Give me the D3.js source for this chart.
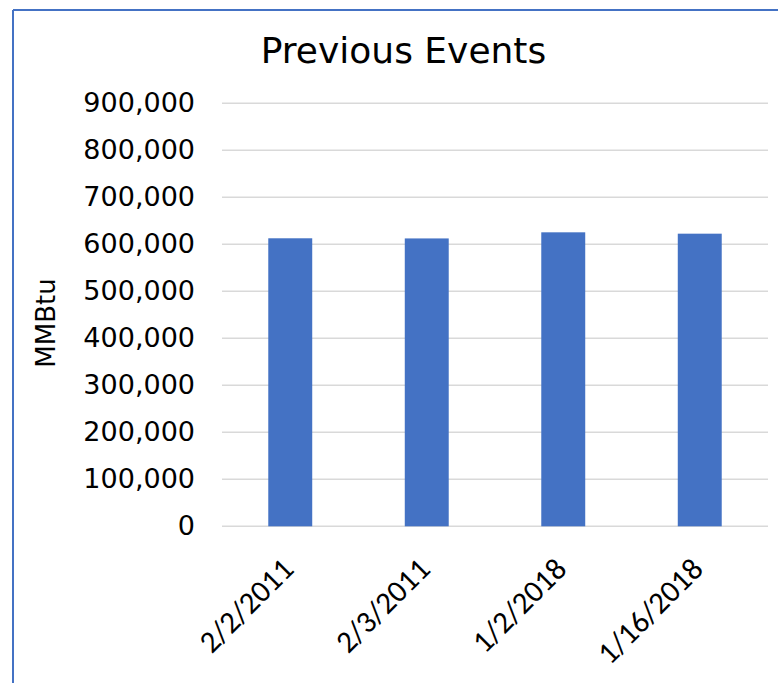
<html>
<head>
<script src="https://d3js.org/d3.v7.min.js"></script>
<style>
body { margin: 0; background: #fff; }
</style>
</head>
<body>
<div id="canvas"></div>
<script>

var width = 778;
var height = 683;

// data
var categories = ["2/2/2011", "2/3/2011", "1/2/2018", "1/16/2018"];
var values = [612800, 612500, 625500, 622600];
var yTicks = [0, 100000, 200000, 300000, 400000, 500000, 600000, 700000, 800000, 900000];
var title = "Previous Events";
var yTitle = "MMBtu";

var plotLeft = 222, plotRight = 768, plotTop = 103.3, plotBottom = 526.3;
var barColor = "#4472C4";

var svg = d3.select("#canvas").append("svg")
    .attr("width", width)
    .attr("height", height)
    .style("display", "block");

// frame (only top and left edges are visible)
svg.append("line")
    .attr("x1", 13).attr("y1", 10).attr("x2", width).attr("y2", 10)
    .attr("stroke", barColor).attr("stroke-width", 2);
svg.append("line")
    .attr("x1", 13).attr("y1", 10).attr("x2", 13).attr("y2", height)
    .attr("stroke", barColor).attr("stroke-width", 2);

var x = d3.scaleBand()
    .domain(categories)
    .range([plotLeft, plotRight])
    .paddingInner(0.678)
    .paddingOuter(0.339);

var y = d3.scaleLinear()
    .domain([0, 900000])
    .range([plotBottom, plotTop]);

var fmt = d3.format(",");

// gridlines
svg.selectAll(".grid")
    .data(yTicks)
    .enter().append("line")
    .attr("class", "grid")
    .attr("x1", plotLeft).attr("x2", plotRight)
    .attr("y1", function(d) { return y(d); })
    .attr("y2", function(d) { return y(d); })
    .attr("stroke", "#d9d9d9")
    .attr("stroke-width", 1.5);

// y tick labels
svg.selectAll(".ylab")
    .data(yTicks)
    .enter().append("text")
    .attr("class", "ylab")
    .attr("x", 195)
    .attr("y", function(d) { return y(d) - 1; })
    .attr("dy", "0.36em")
    .attr("text-anchor", "end")
    .style("font-family", "Verdana, 'DejaVu Sans', sans-serif")
    .style("font-size", "27px")
    .attr("fill", "#000")
    .text(function(d) { return fmt(d); });

// bars
svg.selectAll(".bar")
    .data(values)
    .enter().append("rect")
    .attr("class", "bar")
    .attr("x", function(d, i) { return x(categories[i]); })
    .attr("width", x.bandwidth())
    .attr("y", function(d) { return y(d); })
    .attr("height", function(d) { return y(0) - y(d); })
    .attr("fill", barColor);

// x labels, rotated
svg.selectAll(".xlab")
    .data(categories)
    .enter().append("text")
    .attr("class", "xlab")
    .attr("transform", function(d) {
        return "translate(" + (x(d) + x.bandwidth() / 2 + 5) + ",571) rotate(-45)";
    })
    .attr("text-anchor", "end")
    .style("font-family", "Carlito, 'Liberation Sans', sans-serif")
    .style("font-size", "31px")
    .attr("fill", "#000")
    .text(function(d) { return d; });

// titles
svg.append("text")
    .attr("x", 403.5)
    .attr("y", 63)
    .attr("text-anchor", "middle")
    .style("font-family", "Verdana, 'DejaVu Sans', sans-serif")
    .style("font-size", "36px")
    .attr("fill", "#000")
    .text(title);

svg.append("text")
    .attr("transform", "translate(55,323) rotate(-90)")
    .attr("text-anchor", "middle")
    .style("font-family", "Verdana, 'DejaVu Sans', sans-serif")
    .style("font-size", "26px")
    .attr("fill", "#000")
    .text(yTitle);

</script>
</body>
</html>
